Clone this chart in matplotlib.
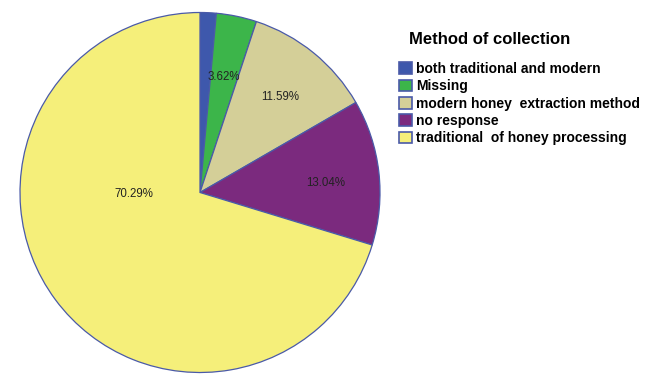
import matplotlib.pyplot as plt
from matplotlib.patches import Patch

plt.rcParams['font.family'] = ['Liberation Sans', 'DejaVu Sans']

# Data (counts of respondents)
categories = ['both traditional and modern', 'Missing', 'modern honey  extraction method',
              'no response', 'traditional  of honey processing']
counts = [2, 5, 16, 18, 97]
colors = ['#3e58ac', '#3cb54a', '#d4cf98', '#7b2a7e', '#f5ef7a']
edge = '#4a5aa8'

fig = plt.figure(figsize=(6.61, 3.74), dpi=100)
ax = fig.add_axes([20 / 661, 1 / 374, 360 / 661, 361 / 374])

wedges, texts, autotexts = ax.pie(counts, colors=colors, startangle=90, counterclock=False,
                                  autopct='%.2f%%', pctdistance=0.7,
                                  wedgeprops=dict(edgecolor=edge, linewidth=0.9),
                                  textprops=dict(fontsize=8.3, color='#222222'))
# SPSS hides the tiny slice label and puts the big one left of centre
autotexts[0].set_visible(False)
autotexts[4].set_position((-0.37, -0.01))
autotexts[1].set_position((0.13, 0.64))
autotexts[2].set_position((0.445, 0.53))
autotexts[3].set_position((0.70, 0.055))
ax.set_xlim(-1.0, 1.0)
ax.set_ylim(-1.0, 1.0)
ax.set_aspect('equal')
ax.axis('off')

fig.text(409 / 661, 1 - 39 / 374, 'Method of collection', fontsize=12, fontweight='bold',
         va='center', ha='left')

handles = [Patch(facecolor=c, edgecolor=edge, linewidth=1.2) for c in colors]
fig.legend(handles, categories, loc='upper left', bbox_to_anchor=(399 / 661, 1 - 62 / 374),
           frameon=False, handlelength=0.9, handleheight=0.9, handletextpad=0.35,
           labelspacing=0.24, borderpad=0, borderaxespad=0,
           prop=dict(size=10, weight='bold'))

fig.savefig('out.png', dpi=100)
